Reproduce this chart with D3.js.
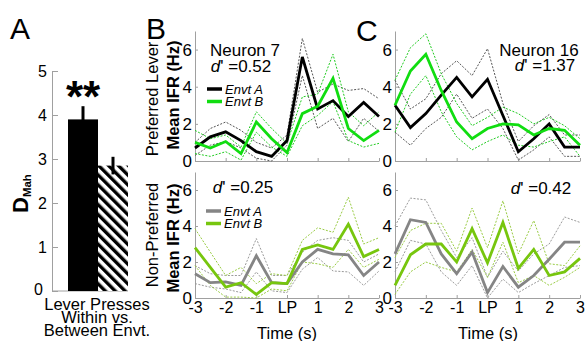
<!DOCTYPE html>
<html>
<head>
<meta charset="utf-8">
<script src="https://cdn.jsdelivr.net/npm/d3@7"></script>
<style>
  html, body { margin: 0; padding: 0; background: #ffffff; }
  svg text { font-family: "Liberation Sans", Arial, Helvetica, sans-serif; fill: #000; }
</style>
</head>
<body>
<svg id="chart" width="585" height="341"></svg>
<script>
// ---- panel A data ----
const barCategories = ["Within", "Between"];
const barValues = [3.9, 2.85];
const barErrors = [0.3, 0.2];
const barTicks = [0, 1, 2, 3, 4, 5];

// ---- time axis ----
const timePoints = [-3, -2.5, -2, -1.5, -1, -0.5, 0, 0.5, 1, 1.5, 2, 2.5, 3];
const timeTicks = [-3, -2, -1, 0, 1, 2, 3];
const timeTickLabels = ["-3", "-2", "-1", "LP", "1", "2", "3"];
const rateTicks = [0, 2, 4, 6];

// ---- Neuron 7, preferred lever ----
const n7PrefA = [0.7, 1.3, 1.57, 1.1, 0.5, 0.25, 1.1, 5.6, 2.8, 3.25, 2.4, 3.15, 2.4];
const n7PrefAHi = [1.0, 1.75, 2.1, 1.65, 1.0, 0.7, 1.4, 6.6, 3.7, 4.15, 3.8, 3.9, 3.35];
const n7PrefALo = [0.3, 0.85, 1.05, 0.7, 0.15, 0.0, 0.85, 4.6, 1.75, 2.3, 1.05, 2.3, 1.6];
const n7PrefB = [1.0, 0.7, 1.05, 0.4, 2.1, 1.2, 0.45, 2.55, 2.95, 4.45, 1.75, 1.1, 1.65];
const n7PrefBHi = [1.65, 1.2, 1.4, 0.75, 2.65, 1.75, 0.95, 3.45, 3.6, 5.75, 2.65, 1.9, 2.65];
const n7PrefBLo = [0.4, 0.25, 0.5, 0.05, 1.55, 0.75, 0.25, 1.9, 2.45, 3.2, 1.1, 0.75, 0.95];

// ---- Neuron 16, preferred lever ----
const n16PrefA = [3.0, 1.8, 2.55, 3.55, 4.5, 3.45, 4.4, 2.45, 0.5, 1.2, 2.0, 0.75, 0.75];
const n16PrefAHi = [4.35, 2.8, 3.35, 4.7, 5.4, 4.6, 6.05, 3.1, 1.05, 1.9, 2.5, 1.4, 1.4];
const n16PrefALo = [1.55, 0.85, 1.75, 2.35, 3.6, 2.3, 2.8, 1.75, 0.05, 0.6, 1.3, 0.25, 0.25];
const n16PrefB = [3.0, 4.85, 5.75, 3.8, 2.1, 1.2, 1.75, 2.0, 1.95, 1.4, 1.75, 1.65, 0.85];
const n16PrefBHi = [4.35, 6.1, 6.85, 4.7, 3.1, 1.9, 2.35, 2.9, 2.55, 2.0, 2.35, 1.9, 1.2];
const n16PrefBLo = [1.55, 3.6, 4.6, 2.65, 1.3, 0.6, 1.05, 1.4, 0.85, 0.75, 1.05, 1.3, 0.25];

// ---- Neuron 7, non-preferred lever ----
const n7NonA = [1.35, 0.85, 0.9, 0.7, 2.35, 0.85, 0.8, 2.0, 2.7, 2.45, 2.4, 1.25, 2.0];
const n7NonAHi = [1.8, 1.35, 1.25, 1.25, 3.3, 1.25, 1.25, 2.55, 3.2, 3.35, 3.2, 2.0, 2.45];
const n7NonALo = [0.8, 0.6, 0.5, 0.3, 1.45, 0.4, 0.3, 1.6, 2.25, 1.5, 1.45, 0.7, 1.5];
const n7NonB = [2.8, 1.7, 0.6, 0.85, 0.2, 0.85, 0.8, 2.7, 2.95, 2.7, 4.1, 2.3, 2.7];
const n7NonBHi = [3.85, 2.55, 1.25, 1.7, 0.8, 1.35, 1.25, 3.2, 3.9, 3.65, 5.6, 3.0, 3.35];
const n7NonBLo = [1.8, 0.7, 0.05, 0.05, 0.0, 0.5, 0.4, 2.0, 1.9, 1.7, 2.7, 1.7, 2.15];

// ---- Neuron 16, non-preferred lever ----
const n16NonA = [2.45, 4.35, 4.2, 2.45, 1.35, 2.55, 0.3, 1.75, 0.6, 1.25, 2.15, 3.1, 3.1];
const n16NonAHi = [4.0, 5.55, 5.45, 3.75, 2.25, 3.35, 1.15, 2.6, 1.5, 2.45, 3.0, 4.5, 4.2];
const n16NonALo = [1.45, 3.2, 3.0, 1.45, 0.7, 1.8, 0.0, 1.05, 0.3, 0.8, 1.25, 1.7, 1.8];
const n16NonB = [0.7, 2.4, 3.0, 3.0, 2.0, 3.85, 1.95, 4.2, 1.65, 2.7, 1.25, 1.45, 2.2];
const n16NonBHi = [2.25, 3.75, 4.15, 4.15, 2.6, 5.0, 2.8, 5.4, 2.45, 4.3, 1.9, 1.8, 2.9];
const n16NonBLo = [0.2, 1.45, 2.0, 1.7, 1.45, 2.7, 1.15, 3.1, 0.85, 1.25, 0.7, 1.15, 1.7];

const svg = d3.select("#chart");
const axisGray = "#a0a0a0";

// ---------- panel labels ----------
[["A", 10, 39], ["B", 146, 39], ["C", 356, 41]].forEach(([t, x, y]) => {
  svg.append("text").attr("x", x).attr("y", y).attr("font-size", 30).text(t);
});

// ---------- panel A ----------
const defs = svg.append("defs");
defs.append("pattern")
  .attr("id", "hatch")
  .attr("patternUnits", "userSpaceOnUse")
  .attr("width", 7)
  .attr("height", 7)
  .attr("patternTransform", "rotate(-45)")
  .call((p) => {
    p.append("rect").attr("width", 7).attr("height", 7).attr("fill", "#fff");
    p.append("rect").attr("width", 3.4).attr("height", 7).attr("fill", "#000");
  });

const yA = d3.scaleLinear().domain([0, 5]).range([291, 71]);
const xA = d3.scaleBand().domain(barCategories).range([68, 128]).padding(0);
const gA = svg.append("g");

const axA = gA.append("g").attr("transform", "translate(52,0)")
  .call(d3.axisLeft(yA).tickValues(barTicks).tickFormat(d3.format("d"))
    .tickSize(-6).tickPadding(5).tickSizeOuter(0));
axA.select(".domain").attr("stroke", axisGray);
axA.selectAll("line").attr("stroke", axisGray);
axA.selectAll("text").attr("font-size", 16).attr("font-family", null);
axA.selectAll(".tick").filter((d) => d === 0).select("text")
  .attr("dy", "0.2em").attr("x", -9);

gA.append("line").attr("x1", 52).attr("x2", 128).attr("y1", yA(0)).attr("y2", yA(0))
  .attr("stroke", axisGray);

gA.selectAll("rect.bar").data(barCategories).join("rect")
  .attr("class", "bar")
  .attr("x", (d) => xA(d))
  .attr("width", xA.bandwidth())
  .attr("y", (d, i) => yA(barValues[i]))
  .attr("height", (d, i) => yA(0) - yA(barValues[i]))
  .attr("fill", (d, i) => (i === 0 ? "#000" : "url(#hatch)"));

gA.selectAll("line.err").data(barCategories).join("line")
  .attr("class", "err")
  .attr("x1", (d) => xA(d) + xA.bandwidth() / 2)
  .attr("x2", (d) => xA(d) + xA.bandwidth() / 2)
  .attr("y1", (d, i) => yA(barValues[i] - barErrors[i]))
  .attr("y2", (d, i) => yA(barValues[i] + barErrors[i]))
  .attr("stroke", "#000")
  .attr("stroke-width", 3);

gA.append("text")
  .attr("x", xA("Within") + xA.bandwidth() / 2)
  .attr("y", 112)
  .attr("text-anchor", "middle")
  .attr("font-size", 44)
  .attr("font-weight", "bold")
  .text("**");

const dm = gA.append("text")
  .attr("transform", "translate(28,213) rotate(-90)")
  .attr("font-weight", "bold");
dm.append("tspan").attr("font-size", 22).text("D");
dm.append("tspan").attr("font-size", 11.5).attr("dy", 3).text("Mah");

[["Lever Presses", 310], ["Within vs.", 323], ["Between Envt.", 336]].forEach(([t, y]) => {
  gA.append("text").attr("x", 97).attr("y", y).attr("text-anchor", "middle")
    .attr("font-size", 16.5).text(t);
});

// ---------- time-course panels ----------
const colBlack = "#000000";
const colGreen = "#11dd11";
const colGray = "#858585";
const colLime = "#77c60e";

function drawPanel(o) {
  const x = d3.scaleLinear().domain([-3, 3]).range(o.xr);
  const y = d3.scaleLinear().domain([0, 7]).range(o.yr);
  const g = svg.append("g");

  const ay = g.append("g").attr("transform", `translate(${o.xr[0]},0)`)
    .call(d3.axisLeft(y).tickValues(rateTicks).tickFormat(d3.format("d"))
      .tickSize(-3).tickPadding(3).tickSizeOuter(0));
  ay.select(".domain").attr("stroke", axisGray);
  ay.selectAll("line").attr("stroke", axisGray);
  ay.selectAll("text").attr("font-size", 17).attr("font-family", null);

  const ax = g.append("g").attr("transform", `translate(0,${o.yr[0]})`)
    .call(d3.axisBottom(x).tickValues(timeTicks).tickSize(-3).tickPadding(4).tickSizeOuter(0)
      .tickFormat((d, i) => timeTickLabels[i]));
  ax.select(".domain").attr("stroke", axisGray);
  ax.selectAll("line").attr("stroke", axisGray);
  ax.selectAll("text").attr("font-size", 16).attr("font-family", null)
    .attr("display", o.showTimeLabels ? null : "none");

  const line = d3.line().x((d, i) => x(timePoints[i])).y((d) => y(d));

  o.series.forEach((s) => {
    [s.hi, s.lo].forEach((band) => {
      g.append("path").datum(band).attr("d", line).attr("fill", "none")
        .attr("stroke", s.bandColor).attr("stroke-width", 1)
        .attr("stroke-dasharray", "2,1.5");
    });
  });
  o.series.forEach((s) => {
    g.append("path").datum(s.mean).attr("d", line).attr("fill", "none")
      .attr("stroke", s.color).attr("stroke-width", 2.8).attr("stroke-linejoin", "miter");
  });
  return { x, y, g };
}

const topSeries = (a, ah, al, b, bh, bl) => [
  { mean: a, hi: ah, lo: al, color: colBlack, bandColor: "#555555" },
  { mean: b, hi: bh, lo: bl, color: colGreen, bandColor: "#22cc22" },
];
const botSeries = (a, ah, al, b, bh, bl) => [
  { mean: a, hi: ah, lo: al, color: colGray, bandColor: "#9a9a9a" },
  { mean: b, hi: bh, lo: bl, color: colLime, bandColor: "#99cc44" },
];

drawPanel({ xr: [195, 379], yr: [161, 31], showTimeLabels: false,
  series: topSeries(n7PrefA, n7PrefAHi, n7PrefALo, n7PrefB, n7PrefBHi, n7PrefBLo) });
drawPanel({ xr: [395, 580], yr: [161, 31], showTimeLabels: false,
  series: topSeries(n16PrefA, n16PrefAHi, n16PrefALo, n16PrefB, n16PrefBHi, n16PrefBLo) });
drawPanel({ xr: [195, 379], yr: [298, 172], showTimeLabels: true,
  series: botSeries(n7NonA, n7NonAHi, n7NonALo, n7NonB, n7NonBHi, n7NonBLo) });
drawPanel({ xr: [395, 580], yr: [298, 172], showTimeLabels: true,
  series: botSeries(n16NonA, n16NonAHi, n16NonALo, n16NonB, n16NonBHi, n16NonBLo) });

// axis titles
function vTitle(t, x, y, bold) {
  svg.append("text")
    .attr("transform", `translate(${x},${y}) rotate(-90)`)
    .attr("text-anchor", "middle").attr("dy", "0.35em")
    .attr("font-size", 16.5).attr("font-weight", bold ? "bold" : null).text(t);
}
vTitle("Preferred Lever", 152, 99, false);
vTitle("Mean IFR (Hz)", 173, 95, true);
vTitle("Non-Preferred", 152, 235, false);
vTitle("Mean IFR (Hz)", 173, 238, true);

[287, 488].forEach((cx) => {
  svg.append("text").attr("x", cx).attr("y", 339).attr("text-anchor", "middle")
    .attr("font-size", 16.5).text("Time (s)");
});

// annotations
function dPrime(x, y, val) {
  const t = svg.append("text").attr("x", x).attr("y", y).attr("font-size", 17)
    .attr("text-anchor", "middle");
  t.append("tspan").attr("font-style", "italic").text("d");
  t.append("tspan").text("' =" + val);
}
svg.append("text").attr("x", 245).attr("y", 56).attr("text-anchor", "middle")
  .attr("font-size", 17).text("Neuron 7");
dPrime(241, 72, "0.52");
svg.append("text").attr("x", 539).attr("y", 56).attr("text-anchor", "middle")
  .attr("font-size", 17).text("Neuron 16");
dPrime(545, 71, "1.37");
dPrime(243, 193, "0.25");
dPrime(541, 194, "0.42");

// legends
function legend(x, y, items) {
  items.forEach((it, i) => {
    const yy = y + i * 12.5;
    svg.append("line").attr("x1", x).attr("x2", x + 15).attr("y1", yy).attr("y2", yy)
      .attr("stroke", it.color).attr("stroke-width", 3.5);
    svg.append("text").attr("x", x + 18).attr("y", yy).attr("dy", "0.35em")
      .attr("font-size", 13).attr("font-style", "italic").text(it.label);
  });
}
legend(207, 89, [{ color: colBlack, label: "Envt A" }, { color: colGreen, label: "Envt B" }]);
legend(206, 211, [{ color: colGray, label: "Envt A" }, { color: colLime, label: "Envt B" }]);
</script>
</body>
</html>
